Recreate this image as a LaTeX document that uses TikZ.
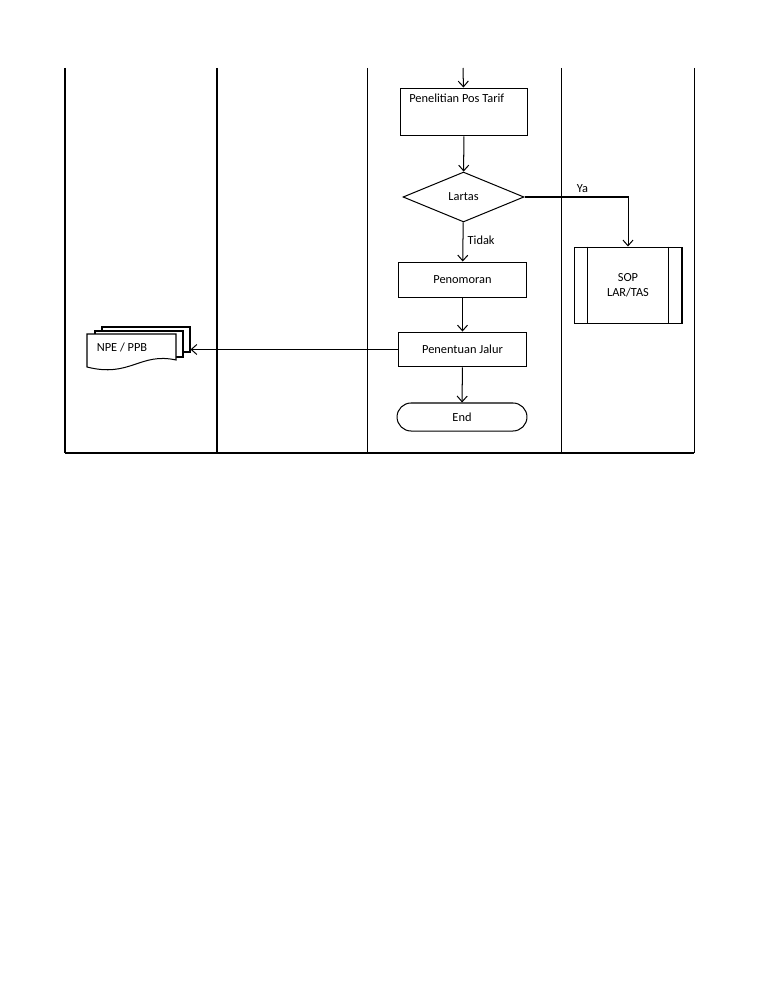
\documentclass[tikz,border=0pt]{standalone}
\usepackage{fontspec}
\setmainfont{Carlito}
\usetikzlibrary{arrows.meta,shapes.geometric,shapes.misc}

\begin{document}
\begin{tikzpicture}[x=0.7927pt,y=-0.7927pt,line width=0.8pt,
        every node/.style={font=\fontsize{9.8}{11.8}\selectfont},
        >={Straight Barb[length=4.5pt,width=8pt]},
        proc/.style={draw,rectangle,inner sep=0pt,minimum width=100.7pt},
        page/.style={draw,fill=white}]
                    \fill[white] (0,0) rectangle (772,1000);
                    \useasboundingbox (0,0) rectangle (772,1000);

                    \foreach \lx in {65,217,367,561,694}
                        \draw (\lx,68) -- (\lx,453);
                    \draw (65,453) -- (694,453);

                    \coordinate (in) at (463,68);
                    \node[proc,minimum height=38pt,
                          label={[anchor=north west,inner sep=0pt,xshift=7pt,yshift=-4.5pt]north west:Penelitian Pos Tarif}]
                          (pos) at (464,112) {};
                    \node[draw,diamond,aspect=2.4,inner sep=0pt,minimum width=95.9pt,minimum height=39.6pt]
                          (lartas) at (463.5,197) {Lartas};
                    \node[proc,minimum height=28.5pt] (nomor) at (462.5,280) {Penomoran};
                    \node[proc,minimum height=27.7pt] (jalur) at (462.5,349.5) {Penentuan Jalur};
                    \node[draw,rounded rectangle,inner sep=0pt,minimum width=103pt,minimum height=22.2pt]
                          (selesai) at (462,417) {End};

                    \node[proc,minimum width=85.6pt,minimum height=61pt,align=center]
                          (sop) at (628,285.5) {SOP\\LAR/TAS};
                        \draw ([xshift=11.1pt]sop.north west) -- ([xshift=11.1pt]sop.south west);
                        \draw ([xshift=-11.1pt]sop.north east) -- ([xshift=-11.1pt]sop.south east);

                    \draw[page] (102,327) rectangle (190,352);
                    \draw[page] (95,331) rectangle (183,357);
                    \draw[page] (87,334) -- (176,334) -- (176,360) .. controls (140,352) and (130,378) .. (87,367) -- cycle;
                    \node[inner sep=0pt,minimum width=81.6pt,minimum height=35.7pt] (npe) at (138.5,349.5) {};
                    \node (npeT) at (122,347) {NPE / PPB};

                    \draw[->] (in) -- (pos);
                    \draw[->] (pos) -- (lartas);
                    \draw[->] (lartas) -- (nomor) node [pos=0.45,right] {Tidak};
                    \draw[->] (lartas.east) -| (sop.north) node [pos=0.28,above] {Ya};
                    \draw[->] (nomor) -- (jalur);
                    \draw[->] (jalur) -- (selesai);
                    \draw[->] (jalur) -- (npe);

                \end{tikzpicture}
\end{document}
